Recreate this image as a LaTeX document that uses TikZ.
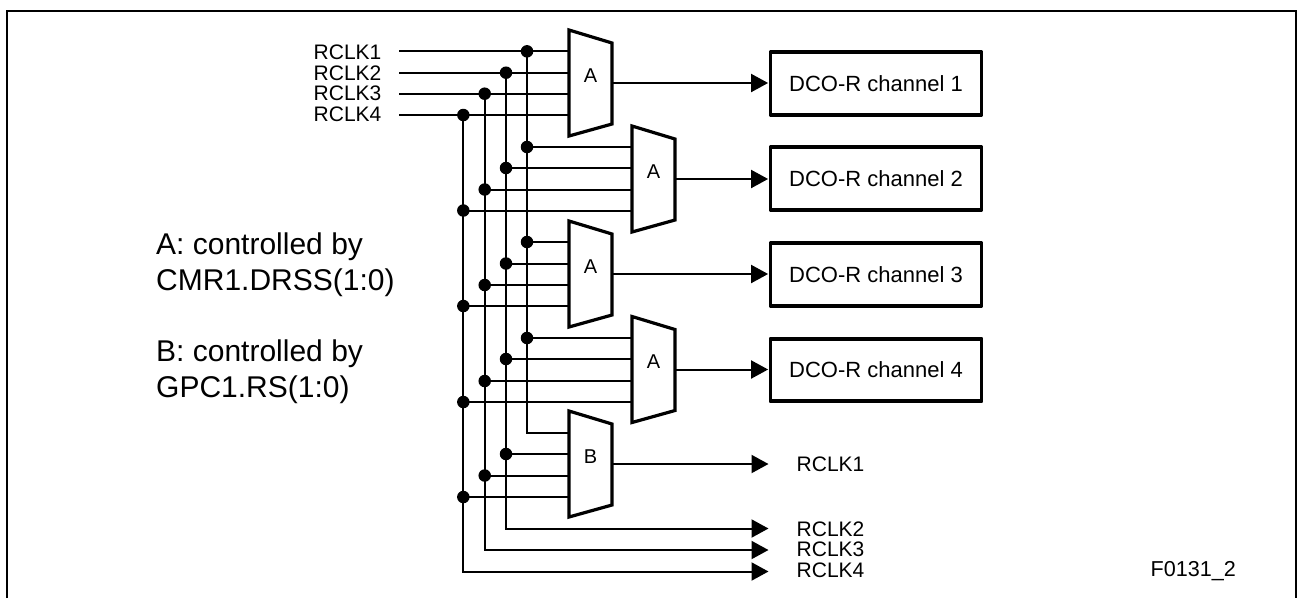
\documentclass[tikz,border=0pt]{standalone}
\usepackage{fontspec}
\setmainfont{Liberation Sans}
\usetikzlibrary{arrows.meta}
\tikzset{
  x=1pt,y=-1pt,
  wire/.style={line width=2pt},
  sig/.style={wire,-{Triangle[length=17pt,width=18pt]},shorten >=0.5pt},
  thick box/.style={draw,line width=3.8pt,minimum width=211pt,minimum height=62.7pt,inner sep=0pt,line join=round,font=\fontsize{22}{22}\selectfont},
  muxbody/.style={draw,line width=3.2pt,fill=white,line join=miter},
  dot/.style={circle,fill=black,inner sep=0pt,minimum size=12.5pt},
  lab/.style={inner sep=0pt,anchor=base west,font=\fontsize{21}{21}\selectfont},
  muxlab/.style={inner sep=0pt,font=\fontsize{20}{20}\selectfont},
  note/.style={inner sep=0pt,anchor=base west,font=\fontsize{30}{30}\selectfont},
}
\newcommand{\muxdef}[3]{% name, left x, top y
  \coordinate (#1i1) at (#2,#3+21);
  \coordinate (#1i2) at (#2,#3+42);
  \coordinate (#1i3) at (#2,#3+63.5);
  \coordinate (#1i4) at (#2,#3+85);
  \coordinate (#1o) at (#2+43,#3+53);
  \coordinate (#1a) at (#2,#3);
  \coordinate (#1b) at (#2+43,#3+13);
  \coordinate (#1c) at (#2+43,#3+94);
  \coordinate (#1d) at (#2,#3+106);
  \coordinate (#1t) at (#2+21.5,#3+45.5);
}
\begin{document}
\begin{tikzpicture}
\useasboundingbox (0,0) rectangle (1297,598);
% frame
\draw[line width=2pt] (7,598) |- (1296,11) -- (1296,598);

% multiplexer anchors
\muxdef{ma}{569}{30}
\muxdef{mb}{632}{126}
\muxdef{mc}{569}{221}
\muxdef{md}{632}{316.5}
\muxdef{me}{569}{411}

% sources
\coordinate (s1) at (399,51.3);
\coordinate (s2) at (399,72.7);
\coordinate (s3) at (399,93.7);
\coordinate (s4) at (399,115);
\node[lab] (ls1) at (313.5,59.3) {RCLK1};
\node[lab] (ls2) at (313.5,80) {RCLK2};
\node[lab] (ls3) at (313.5,100.7) {RCLK3};
\node[lab] (ls4) at (313.5,121.7) {RCLK4};

% junctions: bus x = 527, 506, 484.7, 463.3
\foreach \m/\k/\ya/\yb/\yc/\yd in {a/1/51.3/72.7/93.7/115,b/2/147/168/189.5/210.5,c/3/242/263.5/285/306,d/4/338/359/381/402} {
  \node[dot] (j\k 1) at (527,\ya) {};
  \node[dot] (j\k 2) at (506,\yb) {};
  \node[dot] (j\k 3) at (484.7,\yc) {};
  \node[dot] (j\k 4) at (463.3,\yd) {};
  \foreach \n in {1,2,3,4} {
    \draw[wire] (j\k \n.center) -- (j\k \n.center -| m\m i\n);
  }
}
\node[dot] (j52) at (506,454) {};
\node[dot] (j53) at (484.7,475.5) {};
\node[dot] (j54) at (463.3,497) {};
\coordinate (c51) at (527,433);
\draw[wire] (j11.center) |- (c51) -- (c51 -| mei1);
\foreach \n in {2,3,4} \draw[wire] (j5\n.center) -- (j5\n.center -| mei1);

% inputs
\foreach \n in {1,2,3,4} \draw[wire] (s\n) -- (j1\n.center);

% outputs at the bottom
\coordinate (b2) at (769,528.5);
\coordinate (b3) at (769,550);
\coordinate (b4) at (769,571.5);
\draw[sig] (j12.center) |- (b2);
\draw[sig] (j13.center) |- (b3);
\draw[sig] (j14.center) |- (b4);

% multiplexer bodies
\foreach \m/\t in {a/A,b/A,c/A,d/A,e/B} {
  \filldraw[muxbody] (m\m a) -- (m\m b) -- (m\m c) -- (m\m d) -- cycle;
  \node[muxlab] (lm\m) at (m\m t) {\t};
}

% channels
\node[thick box] (dco1) at (876,83.3) {DCO-R channel 1};
\node[thick box] (dco2) at (876,178.7) {DCO-R channel 2};
\node[thick box] (dco3) at (876,274.3) {DCO-R channel 3};
\node[thick box] (dco4) at (876,370) {DCO-R channel 4};
\coordinate (oe) at (769,465);
\draw[sig] (mao) -- (mao -| dco1.west);
\draw[sig] (mbo) -- (mbo -| dco2.west);
\draw[sig] (mco) -- (mco -| dco3.west);
\draw[sig] (mdo) -- (mdo -| dco4.west);
\draw[sig] (meo) -- (meo -| oe);

% output labels
\node[lab] (l1) at (796.5,471.7) {RCLK1};
\node[lab] (l2) at (796.5,536) {RCLK2};
\node[lab] (l3) at (796.5,556.5) {RCLK3};
\node[lab] (l4) at (796.5,577) {RCLK4};

% notes
\node[note] (n1) at (156,254.3) {A: controlled by};
\node[note] (n2) at (156,290) {CMR1.DRSS(1:0)};
\node[note] (n3) at (156,361.7) {B: controlled by};
\node[note] (n4) at (156,397) {GPC1.RS(1:0)};
\node[lab,font=\fontsize{21.6}{21.6}\selectfont] (fig) at (1150.5,576) {F0131\_2};
\end{tikzpicture}
\end{document}
